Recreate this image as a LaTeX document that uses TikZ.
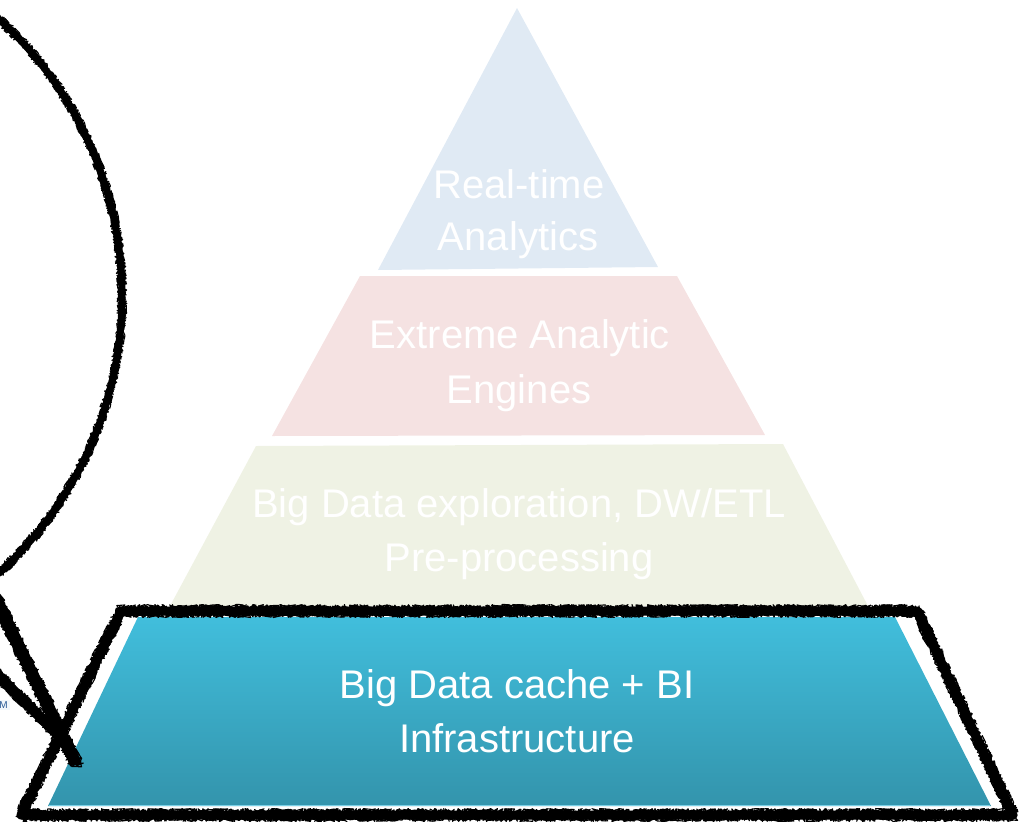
\documentclass[tikz,border=0pt]{standalone}
\usepackage{fontspec}
\setmainfont{Liberation Sans}
\usetikzlibrary{decorations.pathmorphing}

\definecolor{tierA}{RGB}{224,234,244}
\definecolor{tierB}{RGB}{245,226,226}
\definecolor{tierC}{RGB}{239,242,228}
\definecolor{tealtop}{RGB}{65,190,220}
\definecolor{tealbot}{RGB}{51,148,172}
\definecolor{tealedge}{RGB}{120,208,230}
\definecolor{fragtext}{RGB}{40,90,150}
\definecolor{fragbg}{RGB}{240,246,250}

\begin{document}
\begin{tikzpicture}[x=1pt,y=-1pt,
  tiertext/.style={text=white, font=\fontsize{40}{54}\selectfont, anchor=base, inner sep=0pt},
  chalk/.style={draw=black, line width=#1, line cap=round, line join=round},
  chalkfuzz/.style={draw=black, line width=1.1pt, line cap=round, line join=round,
    decorate, decoration={random steps, segment length=1pt, amplitude=#1}},
]
\useasboundingbox (0,0) rectangle (1023,822);
\clip (0,0) rectangle (1023,822);

% pyramid tiers
\fill[tierA] (517,8) -- (658,267) -- (378,270) -- cycle;
\fill[tierB] (360,276) -- (677,276) -- (765,435) -- (272,436) -- cycle;
\fill[tierC] (256,446) -- (783,444) -- (868,606) -- (170,606) -- cycle;
\shade[top color=tealtop, bottom color=tealbot]
  (138,617) -- (895,617) -- (991,806) -- (48,806) -- cycle;
\draw[tealedge, line width=1.5pt] (49,805.5) -- (990,805.5);

% tier captions
\node[tiertext] (rt1) at (519,198) {Real-time};
\node[tiertext] (rt2) at (518,250) {Analytics};
\node[tiertext] (ea1) at (520,348) {Extreme Analytic};
\node[tiertext] (ea2) at (519,403) {Engines};
\node[tiertext] (bd1) at (519,517) {Big Data exploration, DW/ETL};
\node[tiertext] (bd2) at (519,571) {Pre-processing};
\node[tiertext] (bi1) at (517,698) {Big Data cache + BI};
\node[tiertext] (bi2) at (517,752) {Infrastructure};

% small label fragment at the left edge
\node[fill=fragbg, text=fragtext, inner sep=2pt, anchor=east,
  font=\fontsize{10}{10}\selectfont] (frag) at (10,705) {M};

% hand-drawn outline around the base tier
\coordinate (o1) at (121,611);
\coordinate (o2) at (917,611);
\coordinate (o3) at (1013,815);
\coordinate (o4) at (21,815);
\draw[chalk=9pt] (o1) -- (o2) -- (o3) -- (o4) -- cycle;
\foreach \s in {3,11,29,41,53} {
  \pgfmathsetseed{\s}
  \draw[chalkfuzz=6.5pt] (o1) -- (o2) -- (o3) -- (o4) -- cycle;
}

% hand-drawn loop coming in from the left (centre -251,296, radius 373)
\draw[chalk=7pt] plot[domain=-56:56, samples=160]
  ({-251+373*cos(\x)}, {296+373*sin(\x)});
\foreach \s in {5,17,23,31} {
  \pgfmathsetseed{\s}
  \draw[chalkfuzz=5pt] plot[domain=-56:56, samples=160]
    ({-251+373*cos(\x)}, {296+373*sin(\x)});
}

% arrow strokes ending on the base tier
\coordinate (sa1) at (-6,595);
\coordinate (sa2) at (76,764);
\coordinate (sb1) at (-6,671);
\coordinate (sb2) at (60,737);
\draw[chalk=12pt, line cap=butt] (sa1) -- (sa2);
\draw[chalk=10pt] (sb1) -- (sb2);
\foreach \s in {7,13,19,37} {
  \pgfmathsetseed{\s}
  \draw[chalkfuzz=7.5pt] (sa1) -- (sa2);
  \draw[chalkfuzz=6.5pt] (sb1) -- (sb2);
}
\end{tikzpicture}
\end{document}
